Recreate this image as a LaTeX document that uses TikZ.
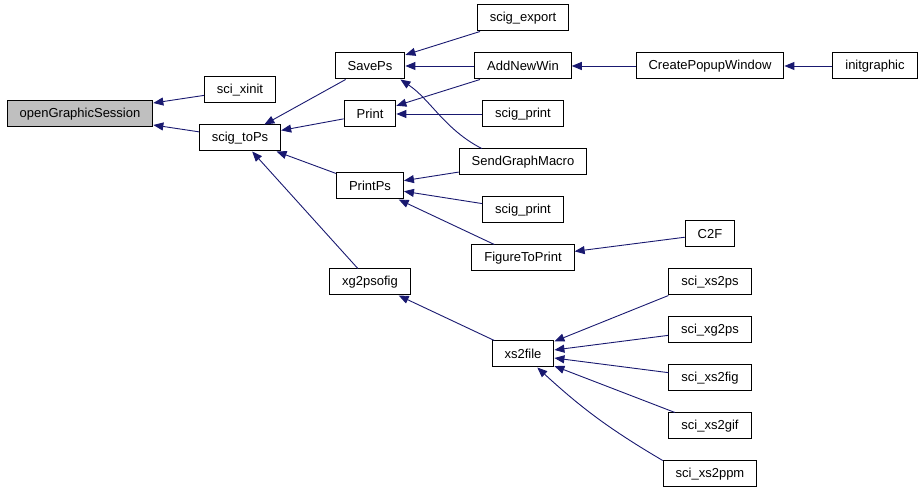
\documentclass[tikz,border=0pt]{standalone}
\usepackage{fontspec}
\setmainfont{Liberation Sans}
\usepackage{tikz}
\usetikzlibrary{arrows.meta, positioning}
\usepackage{xcolor}
\definecolor{edgeblue}{HTML}{191970}
\definecolor{curgray}{HTML}{BFBFBF}

\begin{document}
\begin{tikzpicture}[
  x=1pt, y=1pt,
  node distance=48pt,
  fn/.style={
    rectangle, draw, line width=1pt,
    minimum height=26pt, inner xsep=12.5pt, inner ysep=0pt,
    text centered, fill=white, font=\fontsize{13}{15}\selectfont
  },
  cur/.style={fn, fill=curgray},
  arr/.style={-{Triangle[length=10pt, width=8pt]}, draw=edgeblue, line width=0.9pt}
]
\useasboundingbox (0,0) rectangle (922,490);

\node[cur] (ogs) at (80,376) {openGraphicSession};
\node[fn] (xinit) at (240,400) {sci\_xinit};
\node[fn, below of=xinit] (tops) {scig\_toPs};

\node[fn] (saveps) at (370,424) {SavePs};
\node[fn, below of=saveps] (print) {Print};
\node[fn, below of=print, yshift=-24pt] (printps) {PrintPs};
\node[fn, below of=printps, yshift=-48pt] (xgfig) {xg2psofig};

\node[fn] (addwin) at (523,424) {AddNewWin};
\node[fn, above of=addwin] (export) {scig\_export};
\node[fn, below of=addwin] (sprint1) {scig\_print};
\node[fn, below of=sprint1] (sendmac) {SendGraphMacro};
\node[fn, below of=sendmac] (sprint2) {scig\_print};
\node[fn, below of=sprint2] (figprint) {FigureToPrint};
\node[fn, below of=figprint, yshift=-48pt] (xsfile) {xs2file};

\node[fn] (popup) at (710,424) {CreatePopupWindow};
\node[fn] (initg) at (875,424) {initgraphic};

\node[fn] (xsps) at (710,208) {sci\_xs2ps};
\node[fn, above of=xsps] (ctwof) {C2F};
\node[fn, below of=xsps] (xgps) {sci\_xg2ps};
\node[fn, below of=xgps] (xsfig) {sci\_xs2fig};
\node[fn, below of=xsfig] (xsgif) {sci\_xs2gif};
\node[fn, below of=xsgif] (xsppm) {sci\_xs2ppm};

\draw[arr] (xinit) -- (ogs);
\draw[arr] (tops) -- (ogs);
\draw[arr] (saveps) -- (tops);
\draw[arr] (print) -- (tops);
\draw[arr] (printps) -- (tops);
\draw[arr] (xgfig) -- (tops);
\draw[arr] (export) -- (saveps);
\draw[arr] (addwin) -- (saveps);
\draw[arr] (addwin) -- (print);
\draw[arr] (sprint1) -- (print);
\draw[arr] ([xshift=23pt]sendmac.north west) .. controls +(-37,19) and +(30,-20) .. ([xshift=-5pt]saveps.south east);
\draw[arr] (sendmac) -- (printps);
\draw[arr] (sprint2) -- (printps);
\draw[arr] (figprint) -- (printps);
\draw[arr] (ctwof) -- (figprint);
\draw[arr] (popup) -- (addwin);
\draw[arr] (initg) -- (popup);
\draw[arr] (xsfile) -- (xgfig);
\draw[arr] (xsps.south west) -- (xsfile);
\draw[arr] (xgps) -- (xsfile);
\draw[arr] (xsfig) -- (xsfile);
\draw[arr] (xsgif) -- (xsfile);
\draw[arr] (xsppm.north west) to[bend left=6] (xsfile);

\end{tikzpicture}
\end{document}
